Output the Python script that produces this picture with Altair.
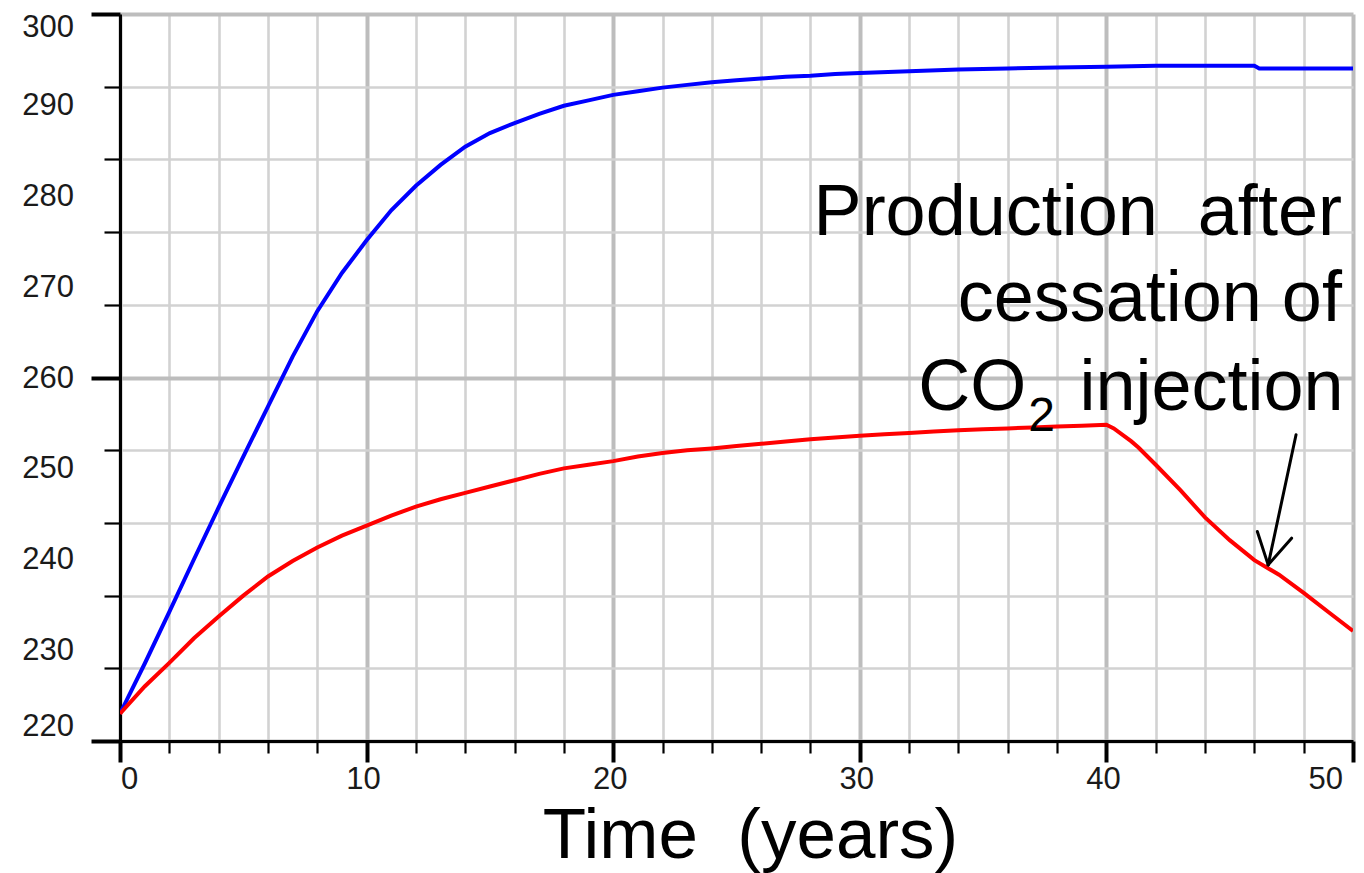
import altair as alt
import pandas as pd

# Blue curve: production while CO2 injection continues
blue_years = [0, 1, 2, 3, 4, 5, 6, 7, 8, 9, 10, 11, 12, 13, 14, 15, 16, 17, 18, 19,
              20, 21, 22, 23, 24, 25, 26, 27, 28, 29, 30, 32, 34, 36, 38, 40, 42, 44,
              46, 46.2, 50]
blue_values = [223.0, 228.5, 234.2, 240.0, 245.7, 251.3, 256.8, 262.3, 267.3, 271.5,
               275.1, 278.4, 281.1, 283.4, 285.4, 286.9, 288.0, 289.0, 289.9, 290.5,
               291.1, 291.5, 291.9, 292.2, 292.5, 292.7, 292.9, 293.1, 293.2, 293.4,
               293.5, 293.7, 293.9, 294.0, 294.1, 294.2, 294.3, 294.3, 294.3, 294.0,
               294.0]

# Red curve: production with injection stopped at year 40
red_years = [0, 1, 2, 3, 4, 5, 6, 7, 8, 9, 10, 11, 12, 13, 14, 15, 16, 17, 18, 19,
             20, 21, 22, 23, 24, 25, 26, 27, 28, 29, 30, 31, 32, 33, 34, 35, 36, 37,
             38, 39, 40, 40.3, 41, 41.3, 42, 43, 44, 45, 46, 47, 48, 49, 50]
red_values = [223.0, 226.0, 228.6, 231.3, 233.7, 236.0, 238.1, 239.8, 241.3, 242.6,
              243.7, 244.8, 245.8, 246.6, 247.3, 248.0, 248.7, 249.4, 250.0, 250.4,
              250.8, 251.3, 251.7, 252.0, 252.2, 252.45, 252.7, 252.95, 253.2, 253.4,
              253.6, 253.75, 253.9, 254.05, 254.2, 254.3, 254.4, 254.5, 254.6, 254.7,
              254.8, 254.4, 253.0, 252.3, 250.4, 247.6, 244.6, 242.1, 239.9, 238.3,
              236.3, 234.2, 232.1]

# Tick positions (every 2 units) and labelled values (every 10)
x_ticks = list(range(0, 51, 2))
y_ticks = list(range(220, 301, 2))
x_labels = [0, 10, 20, 30, 40, 50]
y_labels = [220, 230, 240, 250, 260, 270, 280, 290, 300]

# Annotation text lines (anchored in data units: year, value);
# "\u00a0 " keeps the wide word gaps from collapsing in SVG
note_lines = ["Production\u00a0 after", "cessation of"]
note_years = [49.55, 49.55]
note_values = [275.7, 266.2]
co_text, co_year, co_value = "CO", 36.75, 256.45
sub_text, sub_year, sub_value = "2", 36.83, 254.1
inj_text, inj_year, inj_value = "injection", 49.62, 256.45

# Arrow: shaft plus two head strokes, from start (t, v) to end (t2, v2)
arrow_t = [47.69, 46.12, 47.51]
arrow_v = [253.7, 243.05, 242.32]
arrow_t2 = [46.56, 46.56, 46.56]
arrow_v2 = [239.38, 239.38, 239.38]

curves = pd.concat([
    pd.DataFrame({"t": blue_years, "v": blue_values, "series": "continued"}),
    pd.DataFrame({"t": red_years, "v": red_values, "series": "stopped"}),
])
notes = pd.DataFrame({"t": note_years, "v": note_values, "text": note_lines})
co_df = pd.DataFrame({"t": [co_year], "v": [co_value], "text": [co_text]})
sub_df = pd.DataFrame({"t": [sub_year], "v": [sub_value], "text": [sub_text]})
inj_df = pd.DataFrame({"t": [inj_year], "v": [inj_value], "text": [inj_text]})
arrow = pd.DataFrame({"t": arrow_t, "v": arrow_v, "t2": arrow_t2, "v2": arrow_v2})

x_lab = pd.DataFrame({"t": x_labels, "v": 220, "text": [str(x) for x in x_labels]})
y_lab = pd.DataFrame({"t": 0, "v": y_labels, "text": [str(y) for y in y_labels]})

FONT = "Liberation Sans"
major = "datum.value % 10 === 0"


def cond(major_value, minor_value):
    return {"condition": {"test": major, "value": major_value}, "value": minor_value}


x_scale = alt.Scale(domain=[0, 50], nice=False, zero=False)
y_scale = alt.Scale(domain=[220, 300], nice=False, zero=False)

common = dict(
    labels=False,
    tickColor="black",
    tickWidth=cond(4, 2.2),
    domainColor="black", domainWidth=3,
    grid=True,
    gridColor=cond("#bdbdbd", "#d2d2d2"),
    gridWidth=cond(4, 2.6),
)

x_axis = alt.Axis(
    values=x_ticks,
    tickSize=cond(21, 12),
    title="Time\u00a0 (years)",
    titleFont=FONT, titleFontSize=71, titleFontWeight="normal", titleColor="black",
    titleX=630, titleY=116, titleBaseline="alphabetic", titleAlign="center",
    **common,
)
y_axis = alt.Axis(
    values=y_ticks,
    tickSize=cond(29, 16),
    title=None,
    **common,
)

lines = alt.Chart(curves).mark_line(strokeWidth=4, clip=True).encode(
    x=alt.X("t:Q", scale=x_scale, axis=x_axis),
    y=alt.Y("v:Q", scale=y_scale, axis=y_axis),
    color=alt.Color("series:N", scale=alt.Scale(domain=["continued", "stopped"],
                                                range=["#0000ff", "#ff0000"]),
                    legend=None),
)

# Tick labels: interior ones centred, the end ones kept flush with the axis ends
tick_font = dict(font=FONT, fontSize=31, color="#1a1a1a")
enc = dict(x="t:Q", y="v:Q", text="text:N")

x_first = alt.Chart(x_lab).transform_filter("datum.t == 0").mark_text(
    align="left", baseline="top", dx=1, dy=24, **tick_font).encode(**enc)
x_mid = alt.Chart(x_lab).transform_filter("datum.t > 0 && datum.t < 50").mark_text(
    align="center", baseline="top", dx=-3, dy=24, **tick_font).encode(**enc)
x_last = alt.Chart(x_lab).transform_filter("datum.t == 50").mark_text(
    align="right", baseline="top", dx=-10, dy=24, **tick_font).encode(**enc)

y_top = alt.Chart(y_lab).transform_filter("datum.v == 300").mark_text(
    align="right", baseline="top", dx=-46, dy=-1, **tick_font).encode(**enc)
y_mid = alt.Chart(y_lab).transform_filter("datum.v > 220 && datum.v < 300").mark_text(
    align="right", baseline="middle", dx=-46, dy=1, **tick_font).encode(**enc)
y_bottom = alt.Chart(y_lab).transform_filter("datum.v == 220").mark_text(
    align="right", baseline="bottom", dx=-46, dy=2, **tick_font).encode(**enc)

big = dict(font=FONT, fontSize=72, color="black", baseline="alphabetic")

note_text = alt.Chart(notes).mark_text(align="right", **big).encode(**enc)
co_mark = alt.Chart(co_df).mark_text(align="right", **big).encode(**enc)
inj_mark = alt.Chart(inj_df).mark_text(align="right", **big).encode(**enc)
sub_mark = alt.Chart(sub_df).mark_text(align="left", font=FONT, fontSize=48,
                                       color="black", baseline="alphabetic").encode(**enc)

arrow_mark = alt.Chart(arrow).mark_rule(color="black", strokeWidth=3,
                                        strokeCap="round").encode(
    x="t:Q", y="v:Q", x2="t2:Q", y2="v2:Q")

chart = alt.layer(
    lines, arrow_mark, note_text, co_mark, sub_mark, inj_mark,
    x_first, x_mid, x_last, y_top, y_mid, y_bottom,
).properties(
    width=1233, height=727,
    autosize=alt.AutoSizeParams(type="none"),
    padding={"left": 120, "top": 14, "right": 11, "bottom": 132},
    background="white",
).configure_view(stroke=None)

chart.save("out.html", embed_options={"renderer": "svg", "actions": False})
